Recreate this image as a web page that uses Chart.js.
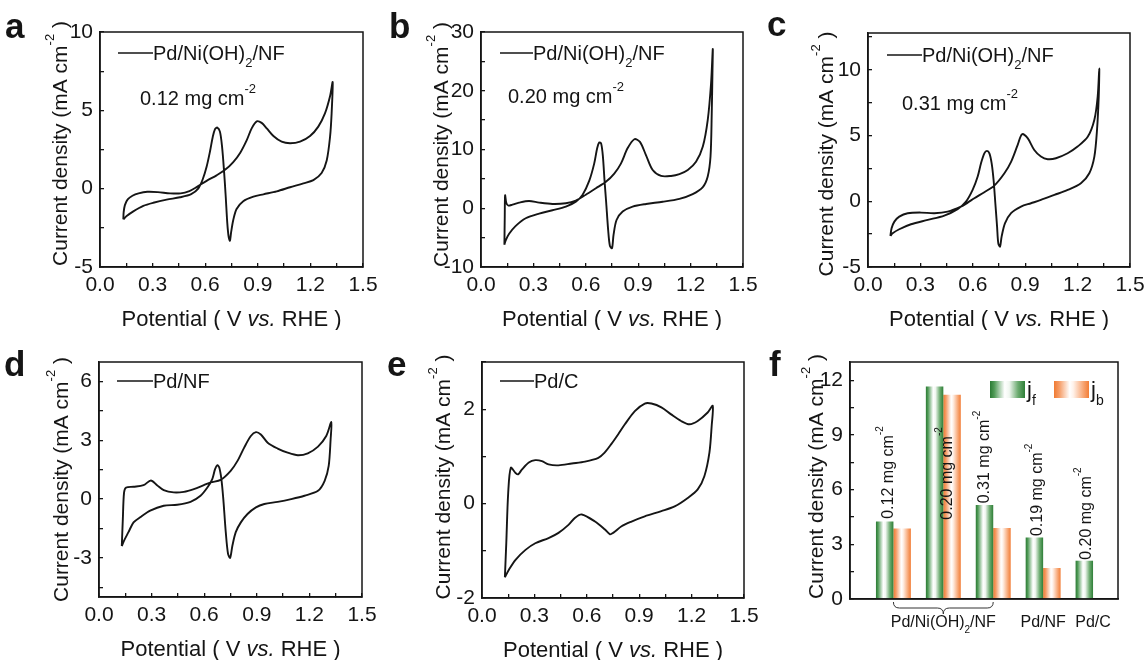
<!DOCTYPE html>
<html>
<head>
<meta charset="utf-8">
<title>CV curves of Pd catalysts</title>
<script src="https://cdn.jsdelivr.net/npm/chart.js@4.4.0/dist/chart.umd.min.js"></script>
<style>
  html, body { margin: 0; padding: 0; background: #fff; }
  #fig { position: relative; width: 1146px; height: 660px; overflow: hidden; }
  #fig canvas { position: absolute; }
</style>
</head>
<body>
<div id="fig">
  <canvas id="pa" width="380" height="330" style="left:0px;top:0px"></canvas>
  <canvas id="pb" width="380" height="330" style="left:380px;top:0px"></canvas>
  <canvas id="pc" width="386" height="330" style="left:760px;top:0px"></canvas>
  <canvas id="pd" width="380" height="330" style="left:0px;top:330px"></canvas>
  <canvas id="pe" width="380" height="330" style="left:380px;top:330px"></canvas>
  <canvas id="pf" width="386" height="330" style="left:760px;top:330px"></canvas>
</div>
<script>
/* ================= DATA ================= */
// [potential V vs. RHE, current density mA cm-2] : forward sweep, then reverse sweep
const cvA = [
  [0.133,-1.96],[0.135,-1.5],[0.142,-1.05],[0.158,-0.68],[0.185,-0.45],[0.22,-0.3],[0.27,-0.2],[0.33,-0.22],
  [0.40,-0.3],[0.46,-0.3],[0.51,-0.15],[0.551,0.1],[0.608,0.5],[0.665,0.85],[0.713,1.2],[0.76,1.7],[0.80,2.3],
  [0.837,3.1],[0.865,3.85],[0.894,4.3],[0.922,4.2],[0.951,3.85],[0.989,3.36],[1.036,3.0],[1.084,2.9],[1.141,3.0],
  [1.198,3.36],[1.245,3.96],[1.283,4.8],[1.312,5.9],[1.327,6.8],
  [1.321,4.8],[1.312,3.3],[1.293,1.8],[1.264,1.0],[1.217,0.55],[1.16,0.34],[1.084,0.09],[1.008,-0.17],[0.932,-0.36],
  [0.875,-0.51],[0.817,-0.8],[0.779,-1.3],[0.76,-2.0],[0.747,-2.85],[0.741,-3.32],[0.734,-3.1],[0.726,-2.2],
  [0.717,-0.5],[0.707,1.2],[0.696,2.7],[0.684,3.64],[0.669,3.9],[0.656,3.8],[0.643,3.3],[0.627,2.36],[0.608,1.4],
  [0.586,0.6],[0.56,0.0],[0.52,-0.35],[0.456,-0.55],[0.38,-0.7],[0.304,-0.9],[0.247,-1.1],[0.19,-1.45],[0.152,-1.75],[0.133,-1.96]
];
const cvB = [
  [0.134,-6.2],[0.136,-1.4],[0.138,2.2],[0.145,0.9],[0.157,0.45],[0.18,0.62],[0.218,0.96],[0.275,1.24],[0.333,0.96],
  [0.409,0.73],[0.486,0.85],[0.543,1.3],[0.6,2.3],[0.658,3.4],[0.715,4.5],[0.763,5.9],[0.801,7.6],[0.839,10.2],
  [0.878,11.75],[0.91,11.3],[0.945,9.0],[0.983,6.5],[1.031,5.5],[1.088,5.5],[1.136,5.8],[1.184,6.5],[1.231,7.9],
  [1.27,10.5],[1.298,15],[1.317,21.2],[1.327,27.1],
  [1.325,22.9],[1.321,16.1],[1.314,8.8],[1.298,5.4],[1.27,3.6],[1.212,2.4],[1.136,1.6],[1.04,1.1],[0.945,0.73],
  [0.868,0.28],[0.811,-0.56],[0.776,-2.0],[0.759,-4.5],[0.75,-6.8],[0.738,-6.4],[0.728,-3.7],[0.717,0.85],[0.707,4.8],
  [0.698,8.8],[0.688,11.0],[0.677,11.2],[0.665,10.2],[0.648,7.6],[0.62,4.7],[0.581,2.26],[0.543,1.13],[0.486,0.28],
  [0.409,-0.34],[0.333,-0.9],[0.256,-1.7],[0.199,-3.0],[0.161,-4.35],[0.141,-5.5],[0.134,-6.2]
];
const cvC = [
  [0.128,-2.64],[0.135,-2.06],[0.151,-1.55],[0.179,-1.17],[0.227,-0.91],[0.303,-0.86],[0.38,-0.91],[0.456,-0.79],
  [0.532,-0.41],[0.571,-0.1],[0.609,0.23],[0.666,0.69],[0.723,1.19],[0.781,2.13],[0.819,3.0],[0.857,4.29],[0.882,5.1],
  [0.914,4.8],[0.952,3.9],[0.99,3.4],[1.029,3.2],[1.076,3.27],[1.143,3.65],[1.2,4.16],[1.258,4.9],[1.296,6.2],
  [1.315,7.97],[1.324,10.1],
  [1.321,7.97],[1.311,5.4],[1.296,3.4],[1.267,2.13],[1.219,1.37],[1.143,0.86],[1.067,0.48],[0.99,0.1],[0.933,-0.15],
  [0.876,-0.4],[0.819,-0.9],[0.784,-1.68],[0.765,-2.69],[0.756,-3.45],[0.746,-3.2],[0.739,-1.93],[0.729,-0.15],
  [0.719,1.62],[0.708,2.89],[0.695,3.65],[0.681,3.83],[0.666,3.65],[0.647,2.89],[0.628,1.88],[0.599,0.86],
  [0.561,-0.03],[0.513,-0.6],[0.437,-1.09],[0.342,-1.42],[0.246,-1.75],[0.179,-2.13],[0.141,-2.44],[0.128,-2.64]
];
const cvD = [
  [0.13,-2.4],[0.136,-1.0],[0.143,0.34],[0.155,0.59],[0.197,0.63],[0.254,0.71],[0.296,0.95],[0.331,0.71],[0.369,0.46],
  [0.426,0.34],[0.484,0.37],[0.541,0.51],[0.598,0.71],[0.637,0.85],[0.694,0.98],[0.751,1.44],[0.79,1.95],[0.828,2.63],
  [0.866,3.22],[0.895,3.42],[0.923,3.3],[0.962,2.88],[1.019,2.58],[1.076,2.37],[1.134,2.24],[1.191,2.34],[1.249,2.68],
  [1.296,3.22],[1.325,3.93],
  [1.321,3.05],[1.31,1.69],[1.287,0.93],[1.249,0.42],[1.172,0.17],[1.096,0],[1.019,-0.14],[0.943,-0.25],[0.895,-0.42],
  [0.847,-0.76],[0.809,-1.19],[0.78,-1.69],[0.761,-2.37],[0.748,-3.0],[0.736,-2.8],[0.723,-1.69],[0.709,0],[0.698,1.02],
  [0.686,1.61],[0.675,1.73],[0.662,1.53],[0.646,1.02],[0.618,0.59],[0.579,0.17],[0.522,-0.14],[0.446,-0.29],
  [0.369,-0.34],[0.292,-0.59],[0.235,-0.93],[0.197,-1.19],[0.168,-1.69],[0.143,-2.12],[0.13,-2.4]
];
const cvE = [
  [0.131,-1.56],[0.139,-0.84],[0.15,0.23],[0.165,0.76],[0.192,0.65],[0.207,0.62],[0.228,0.72],[0.268,0.87],[0.305,0.92],
  [0.343,0.9],[0.381,0.83],[0.438,0.81],[0.514,0.85],[0.59,0.89],[0.666,0.97],[0.702,1.08],[0.74,1.26],[0.78,1.47],
  [0.818,1.68],[0.875,1.96],[0.932,2.12],[0.97,2.12],[1.027,2.04],[1.083,1.89],[1.14,1.75],[1.188,1.68],[1.235,1.75],
  [1.292,1.93],[1.321,2.07],
  [1.315,1.65],[1.302,1.08],[1.273,0.58],[1.235,0.3],[1.178,0.12],[1.103,-0.06],[1.027,-0.16],[0.932,-0.27],
  [0.856,-0.38],[0.799,-0.48],[0.751,-0.62],[0.733,-0.65],[0.704,-0.55],[0.647,-0.38],[0.571,-0.23],[0.533,-0.3],
  [0.495,-0.45],[0.438,-0.62],[0.381,-0.73],[0.305,-0.84],[0.249,-0.98],[0.192,-1.19],[0.154,-1.4],[0.131,-1.56]
];

// panel f: forward / backward peak current densities
const barLoadings = ['0.12', '0.20', '0.31', '0.19', '0.20'];
const jf = [4.25, 11.65, 5.15, 3.38, 2.1];
const jb = [3.87, 11.2, 3.9, 1.7, null];
const noteX = [0.88, 2.06, 2.81, 3.86, 4.85];   // where the loading labels sit (bar units)
const noteY = [4.4, 4.35, 5.25, 3.45, 2.15];

// ticks
const cvXTicks  = [0, 0.15, 0.3, 0.45, 0.6, 0.75, 0.9, 1.05, 1.2, 1.35, 1.5];
const cvXLabels = [0, 0.3, 0.6, 0.9, 1.2, 1.5];
const fYTicks  = [0, 1.5, 3, 4.5, 6, 7.5, 9, 10.5, 12];
const fYLabels = [0, 3, 6, 9, 12];

/* ================= STYLE ================= */
const FONT = '"Liberation Sans", Arial, Helvetica, sans-serif';
const INK = '#151515';
const AXH = 40;
const TICK_PX = 21;
Chart.defaults.font.family = FONT;
Chart.defaults.color = INK;

const yTitle   = [['Current density (mA cm', ''], ['-2', 'sup'], [' )', '']];
const xTitle   = [['Potential ( V ', ''], ['vs.', 'i'], [' RHE )', '']];
const niLegend = [['Pd/Ni(OH)', ''], ['2', 'sub'], ['/NF', '']];

const greenStops  = [[0, '#2b7a34'], [0.12, '#4f9a56'], [0.42, '#ffffff'], [0.55, '#f1f7f1'], [0.8, '#6cab70'], [1, '#2e7e37']];
const orangeStops = [[0, '#f07a32'], [0.15, '#f59c66'], [0.45, '#ffffff'], [0.55, '#fff2ea'], [0.85, '#f7a26e'], [1, '#f27d36']];

/* ================= HELPERS ================= */
function rich(ctx, parts, x, y, size, align, rot) {
  const small = Math.round(size * 0.64);
  const fontOf = k => (k === 'i' ? 'italic ' : '') + ((k === 'sup' || k === 'sub') ? small : size) + 'px ' + FONT;
  ctx.save();
  ctx.translate(x, y);
  if (rot) ctx.rotate(rot);
  ctx.fillStyle = INK;
  ctx.textAlign = 'left';
  ctx.textBaseline = 'alphabetic';
  const widths = parts.map(([t, k]) => { ctx.font = fontOf(k); return ctx.measureText(t).width; });
  const total = widths.reduce((s, w) => s + w, 0);
  let cx = align === 'center' ? -total / 2 : align === 'right' ? -total : 0;
  parts.forEach(([t, k], i) => {
    ctx.font = fontOf(k);
    const dy = k === 'sup' ? -size * 0.6 : k === 'sub' ? size * 0.36 : 0;
    ctx.fillText(t, cx, dy);
    cx += widths[i];
  });
  ctx.restore();
}

function gradient(ctx, x0, x1, stops) {
  const g = ctx.createLinearGradient(x0, 0, x1, 0);
  stops.forEach(([o, c]) => g.addColorStop(o, c));
  return g;
}

function axis(dir, min, max, ticks, fmt, width) {
  return {
    type: 'linear', min, max,
    afterBuildTicks: s => { s.ticks = ticks.map(value => ({ value })); },
    afterFit: s => {
      if (dir === 'x') s.height = AXH; else s.width = width;
      s.paddingLeft = s.paddingRight = s.paddingTop = s.paddingBottom = 0;
    },
    ticks: { autoSkip: false, maxRotation: 0, padding: dir === 'x' ? 10 : 11, font: { size: TICK_PX }, color: INK, callback: fmt },
    grid: { display: true, drawOnChartArea: false, drawTicks: true, tickLength: -4, color: INK, lineWidth: 1.3 },
    border: { display: true, color: INK, width: 1.5 }
  };
}

const framePlugin = {
  id: 'frame',
  afterDraw(chart) {
    const { ctx, chartArea: a } = chart;
    ctx.save();
    ctx.strokeStyle = INK;
    ctx.lineWidth = 1.5;
    ctx.strokeRect(a.left, a.top, a.right - a.left, a.bottom - a.top);
    ctx.restore();
  }
};

function letter(ctx, p) {
  ctx.save();
  ctx.font = 'bold 35px ' + FONT;
  ctx.fillStyle = INK;
  ctx.textAlign = 'left';
  ctx.textBaseline = 'alphabetic';
  ctx.fillText(p.letter, p.lx, p.ly);
  ctx.restore();
}

function annotFor(p) {
  return {
    id: 'annot',
    afterDraw(chart) {
      const { ctx, chartArea: a } = chart;
      letter(ctx, p);
      rich(ctx, yTitle, a.left - p.ytGap, (a.top + a.bottom) / 2 + p.ytDy, 21, 'center', -Math.PI / 2);
      rich(ctx, xTitle, (a.left + a.right) / 2, a.bottom + 59, 22, 'center');
      if (p.legend) {
        const [x0, x1, by] = p.leg;
        ctx.save();
        ctx.strokeStyle = INK;
        ctx.lineWidth = 1.6;
        ctx.beginPath();
        ctx.moveTo(a.left + x0, a.top + by - 7);
        ctx.lineTo(a.left + x1, a.top + by - 7);
        ctx.stroke();
        ctx.restore();
        rich(ctx, p.legend, a.left + x1, a.top + by, 20, 'left');
      }
      if (p.note) rich(ctx, [[p.note + ' mg cm', ''], ['-2', 'sup']], a.left + p.noteAt[0], a.top + p.noteAt[1], 20, 'left');
    }
  };
}

/* ================= CV PANELS ================= */
function cvChart(p) {
  const cv = document.getElementById(p.id);
  const [L, T, R, B] = p.box;
  return new Chart(cv, {
    type: 'scatter',
    data: {
      datasets: [{
        data: p.data.map(([x, y]) => ({ x, y })),
        showLine: true, borderColor: INK, borderWidth: 1.9,
        pointRadius: 0, tension: 0.3, fill: false
      }]
    },
    options: {
      responsive: false, animation: false, events: [],
      layout: { padding: { left: 0, top: T, right: cv.width - R, bottom: cv.height - B - AXH } },
      plugins: { legend: { display: false }, tooltip: { enabled: false } },
      scales: {
        x: axis('x', 0, 1.5, cvXTicks, v => cvXLabels.includes(v) ? v.toFixed(1) : ''),
        y: axis('y', p.yMin, p.yMax, p.yTicks, v => p.yLabels.includes(v) ? String(v) : '', L)
      }
    },
    plugins: [framePlugin, annotFor(p)]
  });
}

const cvPanels = [
  { id: 'pa', letter: 'a', lx: 5, ly: 38, box: [100, 32, 363, 267], data: cvA, yMin: -5, yMax: 10,
    yTicks: [-5, -2.5, 0, 2.5, 5, 7.5, 10], yLabels: [-5, 0, 5, 10],
    legend: niLegend, leg: [18, 53, 28], note: '0.12', noteAt: [40, 73], ytGap: 33, ytDy: -6 },
  { id: 'pb', letter: 'b', lx: 9, ly: 38, box: [101, 32, 363, 267], data: cvB, yMin: -10, yMax: 30,
    yTicks: [-10, -5, 0, 5, 10, 15, 20, 25, 30], yLabels: [-10, 0, 10, 20, 30],
    legend: niLegend, leg: [19, 52, 28], note: '0.20', noteAt: [27, 71], ytGap: 33, ytDy: -5 },
  { id: 'pc', letter: 'c', lx: 7, ly: 36, box: [108, 33, 370, 267], data: cvC, yMin: -5, yMax: 12.8,
    yTicks: [-5, -2.5, 0, 2.5, 5, 7.5, 10, 12.5], yLabels: [-5, 0, 5, 10],
    legend: niLegend, leg: [19, 54, 29], note: '0.31', noteAt: [34, 77], ytGap: 35, ytDy: 4 },
  { id: 'pd', letter: 'd', lx: 4, ly: 46, box: [99, 32, 362, 267], data: cvD, yMin: -5, yMax: 7,
    yTicks: [-4.5, -3, -1.5, 0, 1.5, 3, 4.5, 6], yLabels: [-3, 0, 3, 6],
    legend: [['Pd/NF', '']], leg: [18, 54, 26], ytGap: 31, ytDy: 0 },
  { id: 'pe', letter: 'e', lx: 7, ly: 46, box: [102, 32, 364, 268], data: cvE, yMin: -2, yMax: 3,
    yTicks: [-2, -1, 0, 1, 2, 3], yLabels: [-2, 0, 2],
    legend: [['Pd/C', '']], leg: [18, 52, 26], ytGap: 32, ytDy: -3 }
];
cvPanels.forEach(cvChart);

/* ================= BAR PANEL ================= */
function barFill(c, k) {
  const solid = k ? '#f27d36' : '#2e7e37';
  const chart = c.chart, xs = chart.scales && chart.scales.x;
  if (!xs || c.type !== 'data') return solid;
  const step = xs.getPixelForValue(2) - xs.getPixelForValue(1);
  const w = step * 0.7 / 2;
  const cx = xs.getPixelForValue(c.dataIndex + 1);
  const x0 = k ? cx : cx - w;
  if (!isFinite(x0) || !isFinite(w) || w <= 0) return solid;
  return gradient(chart.ctx, x0, x0 + w, k ? orangeStops : greenStops);
}

const fPanel = { letter: 'f', lx: 9, ly: 46 };
const fBox = [90, 32, 358, 269];

const barAnnot = {
  id: 'barAnnot',
  afterDatasetsDraw(chart) {
    const { ctx, scales: { x: xs, y: ys } } = chart;
    barLoadings.forEach((t, i) => {
      rich(ctx, [[t + ' mg cm', ''], ['-2', 'sup']], xs.getPixelForValue(noteX[i]) + 5.5, ys.getPixelForValue(noteY[i]), 16, 'left', -Math.PI / 2);
    });
  },
  afterDraw(chart) {
    const { ctx, chartArea: a, scales: { x: xs } } = chart;
    letter(ctx, fPanel);
    rich(ctx, yTitle, a.left - 27, (a.top + a.bottom) / 2 - 4, 21, 'center', -Math.PI / 2);

    // legend swatches
    const gx = a.left + 140, ox = a.left + 204, sy = a.top + 19, sw = 35, sh = 17;
    ctx.save();
    ctx.fillStyle = gradient(ctx, gx, gx + sw, greenStops);
    ctx.fillRect(gx, sy, sw, sh);
    ctx.fillStyle = gradient(ctx, ox, ox + sw, orangeStops);
    ctx.fillRect(ox, sy, sw, sh);
    ctx.restore();
    rich(ctx, [['j', ''], ['f', 'sub']], gx + sw + 2, a.top + 35, 22, 'left');
    rich(ctx, [['j', ''], ['b', 'sub']], ox + sw + 2, a.top + 35, 22, 'left');

    // brace under the three Pd/Ni(OH)2/NF loadings
    const x1 = xs.getPixelForValue(1), x3 = xs.getPixelForValue(3), xm = (x1 + x3) / 2;
    const y0 = a.bottom + 3, y1 = a.bottom + 9, y2 = a.bottom + 15;
    ctx.save();
    ctx.strokeStyle = '#333';
    ctx.lineWidth = 1;
    ctx.beginPath();
    ctx.moveTo(x1, y0);
    ctx.quadraticCurveTo(x1, y1, x1 + 6, y1);
    ctx.lineTo(xm - 6, y1);
    ctx.quadraticCurveTo(xm, y1, xm, y2);
    ctx.quadraticCurveTo(xm, y1, xm + 6, y1);
    ctx.lineTo(x3 - 6, y1);
    ctx.quadraticCurveTo(x3, y1, x3, y0);
    ctx.stroke();
    ctx.restore();

    rich(ctx, niLegend, xs.getPixelForValue(2), a.bottom + 28, 16, 'center');
    rich(ctx, [['Pd/NF', '']], xs.getPixelForValue(4), a.bottom + 28, 16, 'center');
    rich(ctx, [['Pd/C', '']], xs.getPixelForValue(5), a.bottom + 28, 16, 'center');
  }
};

(function () {
  const cv = document.getElementById('pf');
  const [L, T, R, B] = fBox;
  const xAxis = axis('x', 0.13, 5.5, [1, 2, 3, 4, 5], () => '');
  xAxis.grid = { display: false };
  xAxis.ticks = { display: false };
  xAxis.offset = false;
  new Chart(cv, {
    type: 'bar',
    data: {
      datasets: [
        { label: 'jf', data: jf.map((y, i) => ({ x: i + 1, y })), backgroundColor: c => barFill(c, 0),
          borderWidth: 0, categoryPercentage: 0.7, barPercentage: 1 },
        { label: 'jb', data: jb.map((y, i) => ({ x: i + 1, y })), backgroundColor: c => barFill(c, 1),
          borderWidth: 0, categoryPercentage: 0.7, barPercentage: 1 }
      ]
    },
    options: {
      responsive: false, animation: false, events: [],
      layout: { padding: { left: 0, top: T, right: cv.width - R, bottom: cv.height - B - AXH } },
      plugins: { legend: { display: false }, tooltip: { enabled: false } },
      scales: {
        x: xAxis,
        y: axis('y', 0, 13, fYTicks, v => fYLabels.includes(v) ? String(v) : '', L)
      }
    },
    plugins: [framePlugin, barAnnot]
  });
})();
</script>
</body>
</html>
